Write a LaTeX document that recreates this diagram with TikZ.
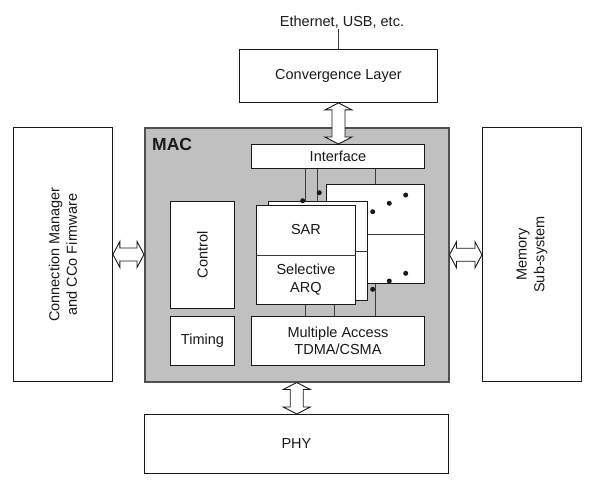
\documentclass[tikz,border=0pt]{standalone}
\usepackage{fontspec}
\setmainfont{Liberation Sans}
\usetikzlibrary{calc}
\definecolor{macgray}{RGB}{192,192,192}
\definecolor{macedge}{RGB}{80,80,80}
\definecolor{ink}{RGB}{25,25,25}
\newcommand{\vhollow}[2]{%
  \draw[harrow] let \p1=(#1), \p2=(#2) in
    (\x1,\y1) -- (\x1+13.5pt,\y1-7pt) -- (\x1+6.5pt,\y1-7pt) -- (\x1+6.5pt,\y2+7pt)
    -- (\x1+13.5pt,\y2+7pt) -- (\x1,\y2) -- (\x1-13.5pt,\y2+7pt) -- (\x1-6.5pt,\y2+7pt)
    -- (\x1-6.5pt,\y1-7pt) -- (\x1-13.5pt,\y1-7pt) -- cycle;}
\newcommand{\hhollow}[2]{%
  \draw[harrow] let \p1=(#1), \p2=(#2) in
    (\x1,\y1) -- (\x1+7pt,\y1+13pt) -- (\x1+7pt,\y1+6.5pt) -- (\x2-7pt,\y1+6.5pt)
    -- (\x2-7pt,\y1+13pt) -- (\x2,\y1) -- (\x2-7pt,\y1-13pt) -- (\x2-7pt,\y1-6.5pt)
    -- (\x1+7pt,\y1-6.5pt) -- (\x1+7pt,\y1-13pt) -- cycle;}
\begin{document}
\begin{tikzpicture}[x=1pt,y=-1pt,
  txt/.style={font=\fontsize{14.5}{17.7}\selectfont, text=ink, align=center, inner sep=0pt},
  box/.style={draw=ink, line width=0.9pt, fill=white, anchor=north west, inner sep=0pt, txt},
  macbox/.style={draw=macedge, line width=1.5pt, fill=macgray, anchor=north west, inner sep=0pt},
  conn/.style={draw=ink!85, line width=0.9pt},
  harrow/.style={draw=ink, line width=0.9pt, fill=white, line join=miter},
  dot/.style={fill=ink}]
\useasboundingbox (0,0) rectangle (602,496);

% outer blocks
\node[box, minimum width=198pt, minimum height=53pt] (conv) at (239,49) {Convergence Layer};
\node[txt, anchor=base] (eth) at (342,26) {Ethernet, USB, etc.};
\draw[conn] (conv.north) -- ++(0,-20);

\node[box, minimum width=99pt, minimum height=254pt] (cm) at (13,127) {};
\node[txt, rotate=90] at (cm.center) {Connection Manager\\and CCo Firmware};

\node[box, minimum width=99pt, minimum height=254pt] (mem) at (482,127) {};
\node[txt, rotate=90] at (mem.center) {Memory\\Sub-system};

\node[box, minimum width=304pt, minimum height=59pt] (phy) at (144,414) {PHY};

% MAC
\node[macbox, minimum width=304pt, minimum height=254pt] (mac) at (144,127) {};
\node[txt, anchor=base west, font=\fontsize{17.5}{20}\selectfont\bfseries] (maclbl) at (152,150.7) {MAC};

\node[box, minimum width=173pt, minimum height=24pt] (iface) at (251,144) {Interface};
\node[box, minimum width=173pt, minimum height=49pt] (ma) at (251,316) {Multiple Access\\TDMA/CSMA};

% connector lines (covered by the stacked boxes)
\draw[conn] (iface.south -| 305,0) -- (ma.north -| 305,0);
\draw[conn] (iface.south -| 317,0) -- (317,230);
\draw[conn] (iface.south -| 375,0) -- (ma.north -| 375,0);
\draw[conn] (334,260) -- (ma.north -| 334,0);

% stacked SAR / ARQ boxes
\node[box, minimum width=98pt, minimum height=99pt] (back) at (326,184) {};
\draw[conn] ($(back.north west)!0.5!(back.south west)$) -- ($(back.north east)!0.5!(back.south east)$);
\node[box, minimum width=99pt, minimum height=99pt] (mid) at (268,201) {};
\draw[conn] ($(mid.north west)!0.5!(mid.south west)$) -- ($(mid.north east)!0.5!(mid.south east)$);
\node[box, minimum width=99pt, minimum height=99pt] (front) at (256,205) {};
\draw[conn] ($(front.north west)!0.5!(front.south west)$) -- ($(front.north east)!0.5!(front.south east)$);
\node[txt] (sar) at ($(front.north)!0.25!(front.south)$) {SAR};
\node[txt] (arq) at ($(front.north)!0.75!(front.south)$) {Selective\\ARQ};

% dots
\fill[dot] (302.7,200.7) circle (2.5pt);
\fill[dot] (319.3,192.7) circle (2.5pt);
\fill[dot] (372.7,211.7) circle (2.5pt);
\fill[dot] (389.3,203.3) circle (2.5pt);
\fill[dot] (405.7,195.0) circle (2.5pt);
\fill[dot] (372.7,289.3) circle (2.5pt);
\fill[dot] (389.3,281.0) circle (2.5pt);
\fill[dot] (405.7,273.3) circle (2.5pt);

% control / timing
\node[box, minimum width=64pt, minimum height=107pt] (ctrl) at (170,201) {};
\node[txt, rotate=90] at (ctrl.center) {Control};
\node[box, minimum width=64pt, minimum height=49pt] (timing) at (170,316) {Timing};

% hollow double arrows
\vhollow{conv.south}{iface.north}
\vhollow{mac.south}{phy.north}
\hhollow{cm.east}{mac.west}
\hhollow{mac.east}{mem.west}
\end{tikzpicture}
\end{document}
